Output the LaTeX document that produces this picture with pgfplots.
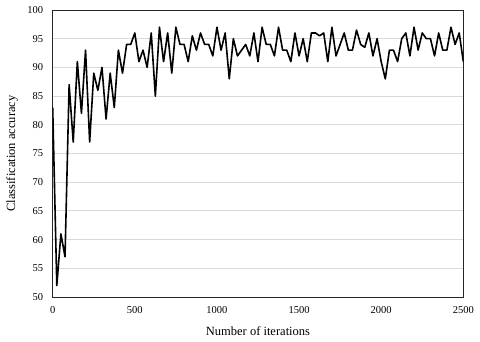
\documentclass[border=0pt]{standalone}
\usepackage{fontspec}
\setmainfont{Liberation Serif}
\usepackage{pgfplots}
\pgfplotsset{compat=1.18}

\pgfplotstableread{
it acc
0 83
25 52
50 61
75 57
100 87
125 77
150 91
175 82
200 93
225 77
250 89
275 86
300 90
325 81
350 89
375 83
400 93
425 89
450 94
475 94
500 96
525 91
550 93
575 90
600 96
625 85
650 97
675 91
700 96
725 89
750 97
775 94
800 94
825 91
850 95.5
875 93
900 96
925 94
950 94
975 92
1000 97
1025 93
1050 96
1075 88
1100 95
1125 92
1150 93
1175 94
1200 92
1225 96
1250 91
1275 97
1300 94
1325 94
1350 92
1375 97
1400 93
1425 93
1450 91
1475 96
1500 92
1525 95
1550 91
1575 96
1600 96
1625 95.5
1650 96
1675 91
1700 97
1725 92
1750 94
1775 96
1800 93
1825 93
1850 96.5
1875 94
1900 93.5
1925 96
1950 92
1975 95
2000 91
2025 88
2050 93
2075 93
2100 91
2125 95
2150 96
2175 92
2200 97
2225 93
2250 96
2275 95
2300 95
2325 92
2350 96
2375 93
2400 93
2425 97
2450 94
2475 96
2500 91
}\acctable

\definecolor{gridgray}{RGB}{217,217,217}

\begin{document}
\begin{tikzpicture}
\begin{axis}[
  at={(0,0)}, anchor=south west,
  scale only axis, width=410.6pt, height=287pt,
  xmin=0, xmax=2500, ymin=50, ymax=100,
  xtick={0,500,...,2500}, ytick={50,55,...,100},
  major tick length=0pt,
  ymajorgrids, grid style={gridgray, line width=0.8pt},
  axis line style={black!85, line width=0.9pt},
  tick label style={font=\fontsize{10.5}{12}\selectfont},
  /pgf/number format/assume math mode=true,
  /pgf/number format/1000 sep={},
  xticklabel style={yshift=-6pt},
  yticklabel style={xshift=-6pt},
  xlabel={Number of iterations},
  ylabel={Classification accuracy},
  label style={font=\fontsize{12.5}{14}\selectfont},
  xlabel style={at={(axis description cs:0.5,-0.118)}, anchor=center},
  ylabel style={at={(axis description cs:-0.099,0.5)}, anchor=center},
]
\addplot[black, line width=1.6pt, line join=round, mark=none] table[x=it, y=acc] {\acctable};
\end{axis}
\pgfresetboundingbox
\path[use as bounding box] (-52.7pt,-45pt) rectangle (427.3pt,297pt);
\end{tikzpicture}
\end{document}
